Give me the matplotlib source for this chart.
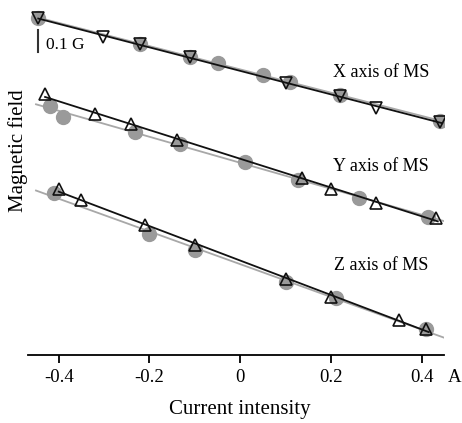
import numpy as np
import matplotlib
matplotlib.use("Agg")
import matplotlib.pyplot as plt

plt.rcParams['font.family'] = ['Liberation Serif', 'DejaVu Serif']

# Data (current in A, field in G, series offset for display)
x_tri_i = [-0.445, -0.302, -0.221, -0.11, 0.10, 0.22, 0.30, 0.44]
x_tri_b = [1.498, 1.416, 1.382, 1.324, 1.212, 1.154, 1.098, 1.037]
x_cir_i = [-0.445, -0.221, -0.11, -0.05, 0.05, 0.11, 0.22, 0.44]
x_cir_b = [1.499, 1.384, 1.326, 1.300, 1.246, 1.216, 1.155, 1.041]

y_tri_i = [-0.43, -0.32, -0.24, -0.14, 0.135, 0.20, 0.30, 0.43]
y_tri_b = [1.160, 1.071, 1.027, 0.957, 0.787, 0.739, 0.678, 0.609]
y_cir_i = [-0.42, -0.39, -0.232, -0.133, 0.01, 0.127, 0.262, 0.413]
y_cir_b = [1.109, 1.060, 0.994, 0.938, 0.858, 0.779, 0.700, 0.616]

z_tri_i = [-0.40, -0.35, -0.21, -0.10, 0.10, 0.20, 0.35, 0.41]
z_tri_b = [0.739, 0.690, 0.577, 0.490, 0.339, 0.259, 0.156, 0.118]
z_cir_i = [-0.41, -0.20, -0.10, 0.10, 0.21, 0.41]
z_cir_b = [0.720, 0.539, 0.468, 0.324, 0.255, 0.116]

series = [
    (x_tri_i, x_tri_b, x_cir_i, x_cir_b, 'v', "X axis of MS", 1.259),
    (y_tri_i, y_tri_b, y_cir_i, y_cir_b, '^', "Y axis of MS", 0.837),
    (z_tri_i, z_tri_b, z_cir_i, z_cir_b, '^', "Z axis of MS", 0.401),
]

xticks = [-0.4, -0.2, 0, 0.2, 0.4]
xticklabels = ["-0.4", "-0.2", "0", "0.2", "0.4"]

W, H = 462, 423
fig = plt.figure(figsize=(W/100, H/100), dpi=100)
ax = fig.add_axes([28/W, 1-355.3/H, 416/W, 355.3/H])
ax.set_xlim(-0.4676, 0.4487)
ax.set_ylim(0, 1.579)

gray = '#9a9a9a'
for ti, tb, ci, cb, mk, lab, ly in series:
    ti = np.array(ti); tb = np.array(tb); ci = np.array(ci); cb = np.array(cb)
    pg = np.polyfit(ci, cb, 1)
    xg = np.array([-0.45, 0.449])
    ax.plot(xg, np.polyval(pg, xg), color='#a8a8a8', lw=1.3, zorder=1)
    ax.plot(ci, cb, 'o', color=gray, ms=10, mec=gray, zorder=2)
    pb = np.polyfit(ti, tb, 1)
    xb = np.array([ti.min(), ti.max() + 0.005])
    ax.plot(xb, np.polyval(pb, xb), color='#111111', lw=1.3, zorder=3)
    ax.plot(ti, tb, mk, mfc='none', mec='#111111', mew=1.2, ms=8.5, zorder=4)
    ax.text(0.31, ly, lab, ha='center', va='center', fontsize=13)

# scale bar
ax.plot([-0.445, -0.445], [1.346, 1.446], color='#333333', lw=1.5, clip_on=False)
ax.text(-0.428, 1.379, "0.1 G", ha='left', va='center', fontsize=12.5)

for s in ['top', 'right', 'left']:
    ax.spines[s].set_visible(False)
ax.spines['bottom'].set_linewidth(1.3)
ax.set_yticks([])
ax.set_xticks(xticks)
ax.set_xticklabels(xticklabels, fontsize=13.5)
ax.tick_params(axis='x', direction='out', length=6, width=1.3, pad=4)
ax.text(0.473, -0.097, "A", transform=ax.transData, ha='center', va='center',
        fontsize=13.5, clip_on=False)

fig.text(240/W, 1-409/H, "Current intensity", ha='center', va='center', fontsize=15)
fig.text(18/W, 1-151/H, "Magnetic field", ha='center', va='center',
         rotation=90, fontsize=15)

fig.savefig("out.png", dpi=100)
